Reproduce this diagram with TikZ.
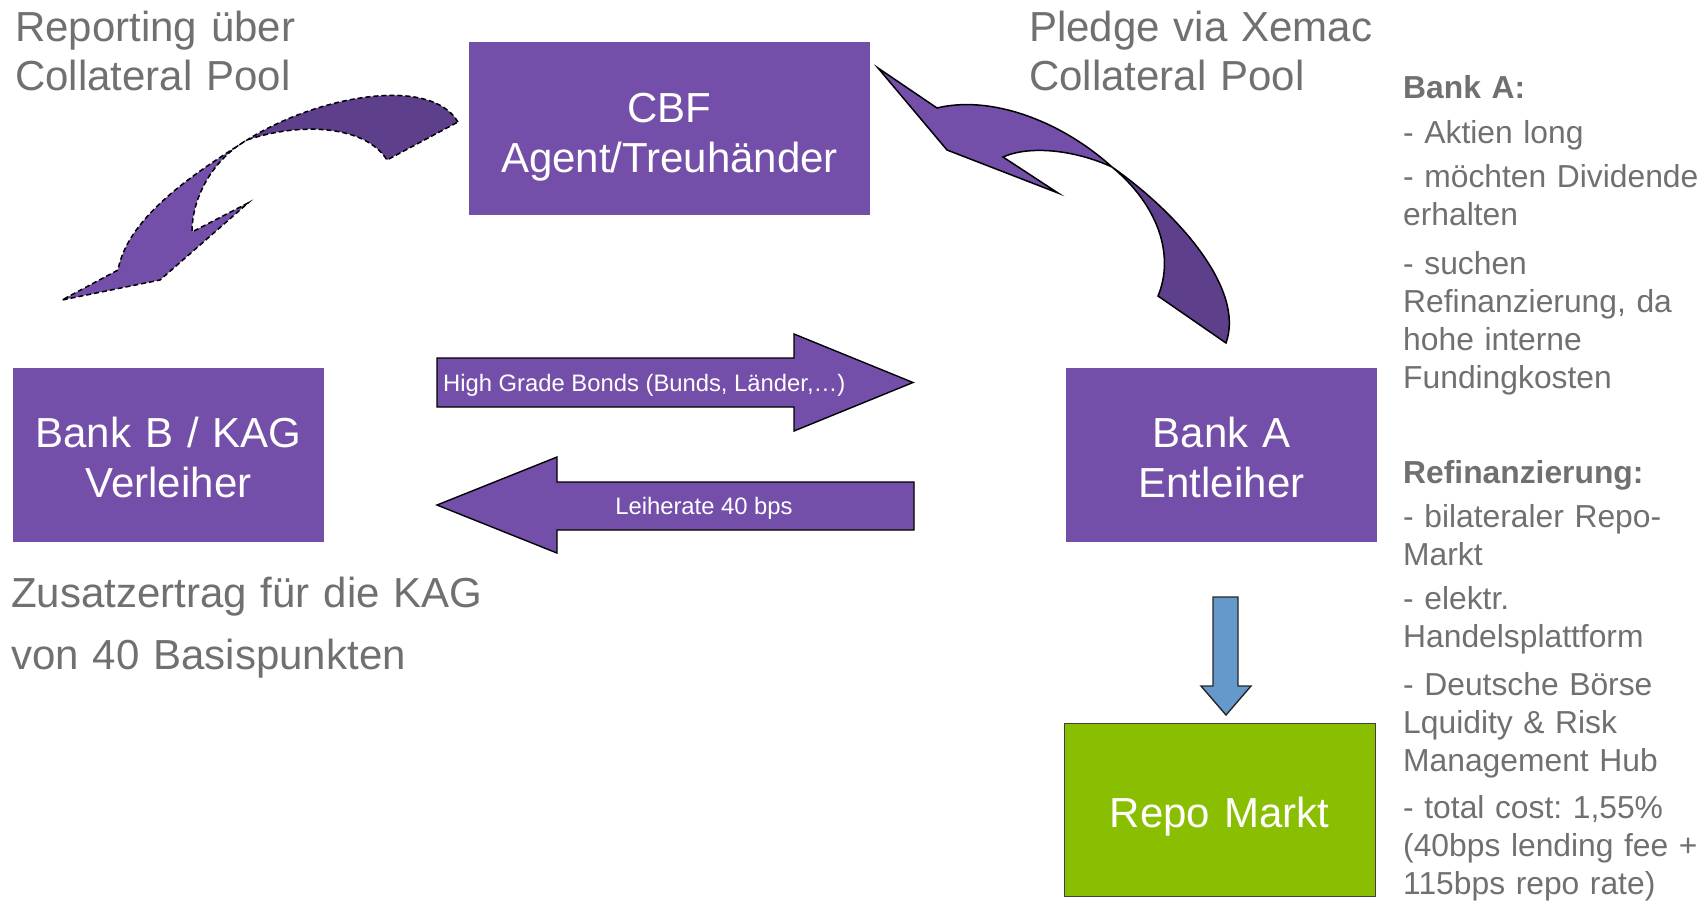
\documentclass[tikz,border=0pt]{standalone}
\usepackage{fontspec}
\setmainfont{Liberation Sans}
\frenchspacing
\definecolor{boxpurple}{RGB}{116,79,169}
\definecolor{darkpurple}{RGB}{94,63,140}
\definecolor{txtgray}{RGB}{112,112,112}
\definecolor{repogreen}{RGB}{137,191,0}
\definecolor{arrowblue}{RGB}{101,153,204}
\begin{document}
\begin{tikzpicture}[x=1pt,y=-1pt,
  box/.style={rectangle, fill=boxpurple, inner sep=0pt, text=white, align=center,
    font=\fontsize{42}{50}\selectfont},
  greenbox/.style={rectangle, fill=repogreen, draw=black!75, line width=1pt, inner sep=0pt,
    text=white, align=center, font=\fontsize{42}{50}\selectfont},
  blockarrow/.style={fill=boxpurple, draw=black, line width=1.4pt, line join=miter},
  arrowtext/.style={text=white, inner sep=0pt, font=\fontsize{23.8}{28}\selectfont},
  graylabel/.style={text=txtgray, inner sep=0pt, align=left, text width=480pt,
    font=\fontsize{42}{50}\selectfont},
  sidetext/.style={text=txtgray, inner sep=0pt, align=left, text width=300pt,
    font=\fontsize{31.8}{38}\selectfont},
  bluearrow/.style={fill=arrowblue, draw=black!85, line width=1.4pt},
  curvedash/.style={draw=black, line width=1.5pt, dash pattern=on 5pt off 3pt},
  curvesolid/.style={draw=black, line width=1.5pt}]
\useasboundingbox (0,0) rectangle (1708,902);

% boxes
\node[box, minimum width=401pt, minimum height=173pt, text width=390pt,
  text height=0pt, text depth=13pt] (cbf) at (669.5,128.5) {CBF\\Agent/Treuhänder};
\node[box, minimum width=311pt, minimum height=174pt, text width=300pt,
  text height=0pt, text depth=16pt] (bankb) at (168.5,455) {Bank B / KAG\\Verleiher};
\node[box, minimum width=311pt, minimum height=174pt, text width=300pt,
  text height=0pt, text depth=16pt] (banka) at (1221.5,455) {Bank A\\Entleiher};
\node[greenbox, minimum width=311pt, minimum height=173pt, text width=300pt,
  text height=35pt, text depth=0pt] (repo) at (1219.5,809.5) {Repo Markt};

% straight block arrows
\draw[blockarrow] (437,358) -- (794,358) -- (794,334) -- (913,382.5) -- (794,431)
  -- (794,407) -- (437,407) -- cycle;
\node[arrowtext, anchor=base west] (hgb) at (443,391) {High Grade Bonds (Bunds, Länder,…)};
\draw[blockarrow] (437,505) -- (557,457) -- (557,482) -- (914,482) -- (914,530)
  -- (557,530) -- (557,553) -- cycle;
\node[arrowtext, anchor=base] (leih) at (704,514.5) {Leiherate 40 bps};

% blue arrow
\draw[bluearrow] (1213,597) -- (1238,597) -- (1238,686) -- (1251,686) -- (1226,715)
  -- (1201,686) -- (1213,686) -- cycle;

% left curved arrow (dashed)
\fill[darkpurple] (458,122) .. controls (430,75) and (317,96) .. (247,140)
  .. controls (300,122) and (365,125) .. (387,160) -- cycle;
\fill[boxpurple] (247,140) .. controls (200,170) and (128,215) .. (118,270)
  -- (62,300) -- (160,280) -- (248,203) -- (192,232)
  .. controls (192,195) and (215,158) .. (247,140) -- cycle;
\draw[curvedash] (458,122) .. controls (430,75) and (317,96) .. (247,140)
  .. controls (200,170) and (128,215) .. (118,270)
  -- (62,300) -- (160,280) -- (248,203) -- (192,232)
  .. controls (192,195) and (215,158) .. (247,140)
  .. controls (300,122) and (365,125) .. (387,160) -- cycle;

% right curved arrow (solid)
\fill[boxpurple] (878,68) -- (937,108) .. controls (990,95) and (1060,120) .. (1112,167)
  .. controls (1075,150) and (1030,145) .. (1003,157) -- (1058,193) -- (947,150) -- cycle;
\fill[darkpurple] (1112,167) .. controls (1180,215) and (1245,290) .. (1226,343)
  -- (1158,296) .. controls (1175,255) and (1158,205) .. (1112,167) -- cycle;
\draw[curvesolid] (878,68) -- (937,108) .. controls (990,95) and (1060,120) .. (1112,167)
  .. controls (1180,215) and (1245,290) .. (1226,343)
  -- (1158,296) .. controls (1175,255) and (1158,205) .. (1112,167)
  .. controls (1075,150) and (1030,145) .. (1003,157) -- (1058,193) -- (947,150) -- cycle;

% gray labels
\node[graylabel, anchor=base west] (rep) at (15,41) {Reporting über\\Collateral Pool};
\node[graylabel, anchor=base west] (pledge) at (1029,41) {Pledge via Xemac\\Collateral Pool};
\node[graylabel, anchor=base west, font=\fontsize{42}{62}\selectfont] (zus) at (11,607)
  {Zusatzertrag für die KAG\\von 40 Basispunkten};

% right column
\node[sidetext, anchor=base west] (t1) at (1403,98) {\bfseries Bank A:};
\node[sidetext, anchor=base west] (t2) at (1403,143) {- Aktien long};
\node[sidetext, anchor=base west] (t3) at (1403,187) {- möchten Dividende\\erhalten};
\node[sidetext, anchor=base west] (t4) at (1403,274) {- suchen\\Refinanzierung, da\\hohe interne\\Fundingkosten};
\node[sidetext, anchor=base west] (t5) at (1403,483) {\bfseries Refinanzierung:};
\node[sidetext, anchor=base west] (t6) at (1403,527) {- bilateraler Repo-\\Markt};
\node[sidetext, anchor=base west] (t7) at (1403,609) {- elektr.\\Handelsplattform};
\node[sidetext, anchor=base west] (t8) at (1403,695) {- Deutsche Börse\\Lquidity \& Risk\\Management Hub};
\node[sidetext, anchor=base west] (t9) at (1403,818) {- total cost: 1,55\%\\(40bps lending fee +\\115bps repo rate)};
\end{tikzpicture}
\end{document}
